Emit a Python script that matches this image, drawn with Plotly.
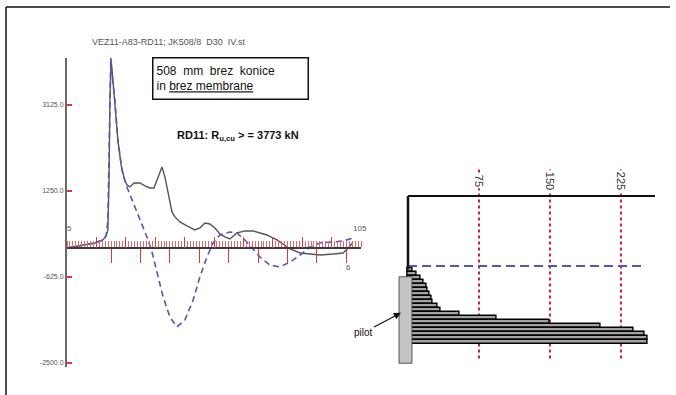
import plotly.graph_objects as go

# ---- Dynamic test signals (time in ms, force in kN) ----
t_force = [5, 9.4, 14.5, 17.2, 18.3, 18.9, 19.3, 19.6, 20.0, 20.6, 21.3, 22.3, 23.4, 24.4, 25.4,
           26.4, 27.8, 29.8, 31.5, 33.2, 34.6, 36.0, 37.3, 38.3, 39.4, 40.7, 41.7, 43.4, 45.8,
           48.5, 50.2, 51.9, 53.6, 55.3, 57.0, 58.7, 60.4, 62.8, 65.5, 68.3, 73.0, 76.4, 80.9,
           84.3, 87.7, 91.1, 95.5, 98.9, 101.3, 102.3]
force = [0, 44, 109, 174, 262, 392, 1482, 3226, 4098, 3662, 3117, 2354, 1809, 1526, 1373,
         1330, 1417, 1417, 1352, 1308, 1308, 1548, 1766, 1548, 1199, 785, 676, 567, 480,
         392, 436, 545, 523, 436, 305, 240, 196, 327, 371, 371, 283, 174, -22,
         -109, -131, -153, -131, -109, 44, 131]

t_vel = [5, 9.4, 14.5, 17.2, 18.3, 18.9, 19.2, 19.6, 19.9, 20.3, 21.3, 22.3, 23.7, 25.1, 27.4,
         29.8, 32.2, 33.9, 35.6, 37.7, 40.0, 42.4, 45.1, 47.9, 50.2, 52.6, 54.7, 57.0, 60.4,
         62.8, 66.2, 70.6, 74.0, 77.4, 80.9, 84.3, 87.7, 91.1, 95.5, 98.9, 102.3]
vel_z = [0, 44, 109, 174, 262, 600, 2000, 3500, 4140, 3800, 3226, 2354, 1700, 1373, 1003,
         654, 240, -87, -545, -1068, -1504, -1722, -1570, -1134, -632, -196, 109, 283, 349,
         327, 131, -196, -371, -414, -305, -153, 22, 109, 131, 153, 218]

y_ticks = [3125, 1250, -625, -2500]
y_tick_text = ["3125.0", "1250.0", "-625.0", "-2500.0"]
x_major = [20, 30, 40, 50, 60, 70, 80, 90, 100]
x_mid = [15, 25, 35, 45, 55, 65, 75, 85, 95]

# ---- Shaft resistance distribution (depth in m, kN/m) ----
depth = [9.25, 9.75, 10.25, 10.75, 11.25, 11.75, 12.25, 12.75, 13.25, 13.75,
         14.25, 14.75, 15.25, 15.75, 16.25, 16.75, 17.25, 17.75, 18.25]
shaft = [5, 9, 13, 16, 20, 21, 23, 25, 26, 31, 34, 55, 94, 150, 203, 238, 250, 253, 253]
grid_vals = [75, 150, 225]
grid_text = ["75", "150", "225"]

RED = "#d8393f"
BLUE = "#5656b2"

fig = go.Figure()

fig.add_trace(go.Scatter(x=t_force, y=force, mode="lines",
                         line=dict(color="#555555", width=1.4),
                         xaxis="x", yaxis="y", showlegend=False, hoverinfo="skip"))
fig.add_trace(go.Scatter(x=t_vel, y=vel_z, mode="lines",
                         line=dict(color=BLUE, width=1.6, dash="6px,4px"),
                         xaxis="x", yaxis="y", showlegend=False, hoverinfo="skip"))
# carrier trace for the tick overlay axis
fig.add_trace(go.Scatter(x=[5], y=[0], mode="markers", marker=dict(opacity=0),
                         xaxis="x3", yaxis="y", showlegend=False, hoverinfo="skip"))

fig.add_trace(go.Bar(y=depth, x=shaft, orientation="h", width=0.5,
                     marker=dict(color="#a4a4a4", line=dict(color="#000000", width=1.4)),
                     xaxis="x2", yaxis="y2", showlegend=False, hoverinfo="skip"))

# depth of the dashed marker line
fig.add_trace(go.Scatter(x=[0, 248], y=[8.75, 8.75], mode="lines",
                         line=dict(color=BLUE, width=2.2, dash="9px,5px"),
                         xaxis="x2", yaxis="y2", showlegend=False, hoverinfo="skip"))

x_pos = 1 - 248 / 395

fig.update_layout(
    width=676, height=395,
    margin=dict(l=0, r=0, t=0, b=0),
    paper_bgcolor="white", plot_bgcolor="rgba(0,0,0,0)",
    font=dict(family="Liberation Sans, Arial, sans-serif"),
    xaxis=dict(domain=[67 / 676, 361 / 676], range=[5, 105], anchor="free", position=x_pos,
               showline=True, linecolor="#3a3a3a", linewidth=2,
               ticks="outside", tickmode="array", tickvals=x_major, ticklen=14,
               tickcolor=RED, tickwidth=1.2, showticklabels=False,
               minor=dict(ticks="inside", tick0=0, dtick=1, ticklen=6, tickcolor="#e06a6a", tickwidth=1),
               showgrid=False, zeroline=False),
    xaxis3=dict(overlaying="x", range=[5, 105], anchor="free", position=x_pos,
                showline=False, ticks="inside", tickmode="array", tickvals=x_mid,
                ticklen=11, tickcolor=RED, tickwidth=1.2, showticklabels=False,
                showgrid=False, zeroline=False),
    yaxis=dict(domain=[1 - 367.3 / 395, 1 - 57.5 / 395], range=[-2600, 4150], anchor="x",
               showline=True, linecolor="#6a6a6a", linewidth=2,
               ticks="inside", ticklen=5, tickcolor=RED, tickwidth=1.5,
               tickmode="array", tickvals=y_ticks, ticktext=y_tick_text,
               tickfont=dict(size=7, color="#555555"),
               showgrid=False, zeroline=False),
    xaxis2=dict(domain=[397.6 / 676, 655 / 676], range=[-11, 261], anchor="y2", visible=False),
    yaxis2=dict(domain=[1 - 364 / 395, 1 - 169 / 395], range=[21, -3.375], anchor="x2", visible=False),
    bargap=0,
)

shapes = []
# frame
shapes.append(dict(type="line", xref="paper", yref="paper", x0=6 / 676, x1=670 / 676,
                   y0=1 - 7 / 395, y1=1 - 7 / 395, line=dict(color="#111", width=1.5)))
shapes.append(dict(type="line", xref="paper", yref="paper", x0=6 / 676, x1=6 / 676,
                   y0=1 - 7 / 395, y1=0, line=dict(color="#111", width=1.5)))
# resistance chart: grid, top axis and shaft line
for v in grid_vals:
    shapes.append(dict(type="line", xref="x2", yref="y2", x0=v, x1=v, y0=-3.3, y1=20.5,
                       line=dict(color="#cc2233", width=2, dash="3px,3px"), layer="below"))
shapes.append(dict(type="line", xref="x2", yref="y2", x0=0, x1=261, y0=0, y1=0,
                   line=dict(color="#111", width=2)))
shapes.append(dict(type="line", xref="x2", yref="y2", x0=0, x1=0, y0=0, y1=9.2,
                   line=dict(color="#111", width=2.5)))
# pile body
shapes.append(dict(type="rect", xref="x2", yref="y2", x0=-9.5, x1=4.2, y0=10.1, y1=20.9,
                   fillcolor="#c4c4c4", line=dict(color="#555", width=1), layer="above"))
fig.update_layout(shapes=shapes)

ann = []
ann.append(dict(xref="paper", yref="paper", x=90 / 676, y=1 - 42 / 395, xanchor="left", yanchor="middle",
                text="VEZ11-A83-RD11; JK508/8\u00a0\u00a0D30\u00a0\u00a0IV.st", showarrow=False,
                font=dict(size=9, color="#555555")))
ann.append(dict(xref="paper", yref="paper", x=152 / 676, y=1 - 57 / 395, xanchor="left", yanchor="top",
                text="508\u00a0\u00a0mm\u00a0\u00a0brez\u00a0\u00a0konice<br>in <span style='text-decoration:underline'>brez membrane</span>",
                showarrow=False, align="left", width=148, height=34,
                bordercolor="#111", borderwidth=1.5, borderpad=3, bgcolor="white",
                font=dict(size=12, color="#111")))
ann.append(dict(xref="paper", yref="paper", x=175 / 676, y=1 - 136 / 395, xanchor="left", yanchor="middle",
                text="<b>RD11: R<sub>u,cu</sub> > = 3773 kN</b>", showarrow=False,
                font=dict(size=11, color="#111")))
ann.append(dict(xref="x", yref="y", x=6, y=414, text="5", showarrow=False,
                font=dict(size=8, color="#555")))
ann.append(dict(xref="x", yref="y", x=104.7, y=414, text="105", showarrow=False,
                font=dict(size=8, color="#555")))
ann.append(dict(xref="x", yref="y", x=100.9, y=-436, text="6", showarrow=False,
                font=dict(size=8, color="#555")))
for v, s in zip(grid_vals, grid_text):
    ann.append(dict(xref="x2", yref="y2", x=v, y=-1.9, text=s, textangle=90, showarrow=False,
                    bgcolor="white", font=dict(size=11, color="#333")))
ann.append(dict(xref="x2", yref="y2", x=115, y=-3.5, text="kN/m", showarrow=False,
                font=dict(size=8, color="#333")))
# label with arrow pointing at the pile
ann.append(dict(xref="x2", yref="y2", x=-7.4, y=14.6, axref="pixel", ax=-38, ay=20,
                text="pilot", showarrow=True, standoff=0,
                arrowhead=2, arrowsize=1.2, arrowwidth=1.2, arrowcolor="#111",
                font=dict(size=10, color="#111")))
fig.update_layout(annotations=ann)

fig.write_html("out.html")
